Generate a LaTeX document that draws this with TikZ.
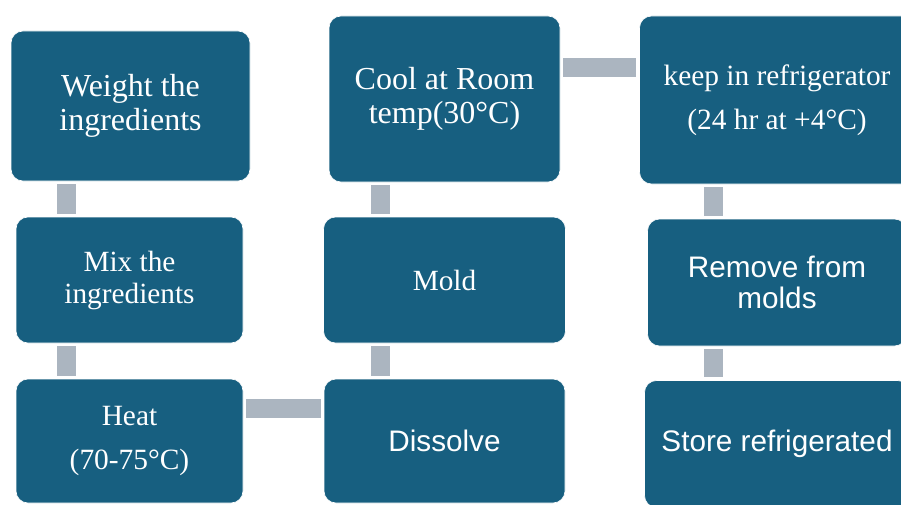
\documentclass[tikz,border=0pt]{standalone}
\usepackage{fontspec}
\setmainfont{Liberation Serif}
\setsansfont{Liberation Sans}
\usepackage{tikz}
\usetikzlibrary{shapes}
\definecolor{boxblue}{RGB}{23,95,128}
\definecolor{linkgray}{RGB}{171,181,192}
\tikzstyle{stage} = [rectangle, draw=white, line width=0.6pt, fill=boxblue, rounded corners=12pt, text=white, align=center, inner sep=0pt]
\tikzstyle{serif_big} = [font=\fontsize{32}{34}\selectfont\rmfamily]
\tikzstyle{serif_mid} = [font=\fontsize{29.3}{32}\selectfont\rmfamily]
\tikzstyle{serif_wide} = [font=\fontsize{29.4}{44}\selectfont\rmfamily]
\tikzstyle{sans_txt} = [font=\fontsize{29.7}{31}\selectfont\sffamily]
\tikzstyle{link} = [draw=linkgray, line width=19pt, shorten <=3pt, shorten >=3pt]

\begin{document}
\begin{tikzpicture}[x=1pt, y=1pt]
	\useasboundingbox (0,0) rectangle (901,-505);
	
	\node [stage, serif_big, minimum width=239pt, minimum height=150pt] (weight) at (130.5,-106) {Weight the\\ingredients};
	\node [stage, serif_mid, below of=weight, node distance=174pt, xshift=-1pt, minimum width=227pt, minimum height=126pt] (mix) {Mix the\\ingredients};
	\node [stage, serif_wide, below of=mix, node distance=161pt, minimum width=227pt, minimum height=124pt] (heat) {Heat\\(70-75°C)};
	
	\node [stage, sans_txt, right of=heat, node distance=315pt, minimum width=241pt, minimum height=124pt] (dissolve) {Dissolve};
	\node [stage, serif_mid, above of=dissolve, node distance=161pt, minimum width=242pt, minimum height=126pt] (mold) {Mold};
	\node [stage, serif_big, above of=mold, node distance=181pt, minimum width=231pt, minimum height=166pt] (cool) {Cool at Room\\temp(30°C)};
	
	\node [stage, serif_wide, right of=cool, node distance=332.5pt, yshift=-1pt, minimum width=275pt, minimum height=168pt] (keep) {keep in refrigerator\\(24 hr at +4°C)};
	\node [stage, sans_txt, below of=keep, node distance=182.5pt, minimum width=259pt, minimum height=127pt] (remove) {Remove from\\molds};
	\node [stage, sans_txt, below of=remove, node distance=161.5pt, minimum width=265pt, minimum height=127pt] (store) {Store refrigerated};
	
	\coordinate (col_a) at (66.5,0);
	\coordinate (col_b) at (380.5,0);
	\coordinate (col_c) at (713.5,0);
	\coordinate (row_a) at (0,-67.5);
	\coordinate (row_b) at (0,-408.5);
	
	\path [link] (weight.south -| col_a) to (mix.north -| col_a);
	\path [link] (mix.south -| col_a) to (heat.north -| col_a);
	\path [link] (heat.east |- row_b) to (dissolve.west |- row_b);
	\path [link] (dissolve.north -| col_b) to (mold.south -| col_b);
	\path [link] (mold.north -| col_b) to (cool.south -| col_b);
	\path [link] (cool.east |- row_a) to (keep.west |- row_a);
	\path [link] (keep.south -| col_c) to (remove.north -| col_c);
	\path [link] (remove.south -| col_c) to (store.north -| col_c);
\end{tikzpicture}
\end{document}
